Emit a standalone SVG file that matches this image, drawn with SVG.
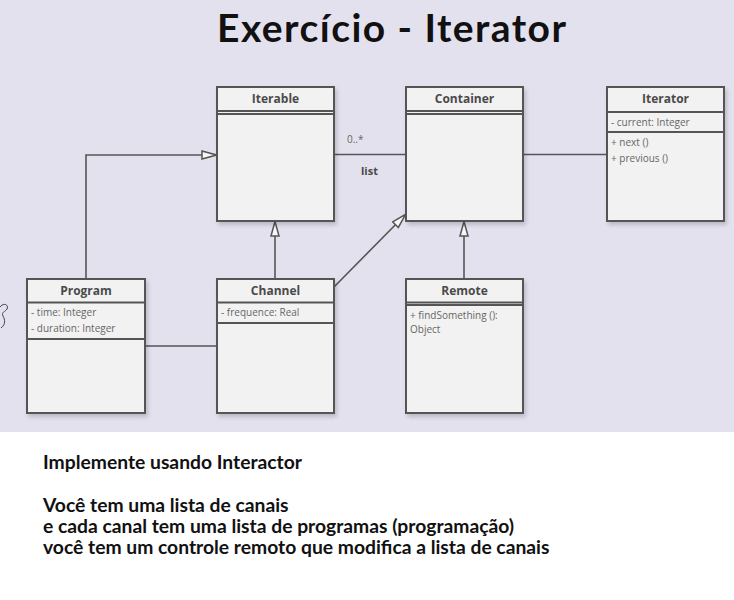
<svg xmlns="http://www.w3.org/2000/svg" width="734" height="600" viewBox="0 0 734 600">
<defs>
<marker id="tri" viewBox="0 0 16 10" refX="16" refY="5" markerWidth="16" markerHeight="10" markerUnits="userSpaceOnUse" orient="auto">
<path d="M1,1 L15.5,5 L1,9 Z" fill="#f7f7f7" stroke="#555" stroke-width="1.5" stroke-linejoin="miter"/>
</marker>
<filter id="sh" x="-10%" y="-10%" width="130%" height="130%">
<feGaussianBlur in="SourceAlpha" stdDeviation="2"/>
<feOffset dx="2" dy="3" result="b"/>
<feComponentTransfer><feFuncA type="linear" slope="0.18"/></feComponentTransfer>
<feMerge><feMergeNode/><feMergeNode in="SourceGraphic"/></feMerge>
</filter>
</defs>
<style>
.box{fill:#f2f2f2;stroke:#555;stroke-width:2;filter:url(#sh)}
.div{stroke:#555;stroke-width:2}
.name{font-family:"Open Sans","Noto Sans",sans-serif;font-weight:bold;font-size:12px;fill:#4a4a4a;text-anchor:middle}
.attr{font-family:"Open Sans","Noto Sans",sans-serif;font-size:10px;fill:#666}
.con{fill:none;stroke:#555;stroke-width:1.6}
.body{font-family:Lato,"Liberation Sans",sans-serif;font-weight:bold;font-size:19.3px;fill:#111}
</style>
<rect x="0" y="0" width="734" height="432" fill="#e4e1ef"/>
<rect x="0" y="432" width="734" height="168" fill="#ffffff"/>
<text x="391.5" y="42" font-family="Lato,'Liberation Sans',sans-serif" font-weight="bold" font-size="39" fill="#111" text-anchor="middle" textLength="349" lengthAdjust="spacing">Exercício - Iterator</text>
<path d="M0,307 C4,302 9,305 7,309 C5,312 1,312 3,316 C5,320 6,324 1,328" fill="none" stroke="#444" stroke-width="1"/>

<g id="connectors">
<path class="con" d="M86,279 L86,155 L217,155" marker-end="url(#tri)"/>
<path class="con" d="M275,279 L275,221" marker-end="url(#tri)"/>
<path class="con" d="M334,287 L406,214" marker-end="url(#tri)"/>
<path class="con" d="M464,279 L464,221" marker-end="url(#tri)"/>
<path class="con" d="M334,154.5 L406,154.5"/>
<path class="con" d="M523,154.5 L607,154.5"/>
<path class="con" d="M145,346 L217,346"/>
<text x="347" y="143" class="attr">0..*</text>
<text x="361" y="175" font-family="'Open Sans','Noto Sans',sans-serif" font-weight="bold" font-size="11" fill="#4a4a4a">list</text>
</g>

<g id="Iterable">
<rect class="box" x="217" y="87" width="117" height="134"/>
<line class="div" x1="217" y1="111" x2="334" y2="111"/>
<line class="div" x1="217" y1="114" x2="334" y2="114"/>
<text class="name" x="275.5" y="103">Iterable</text>
</g>

<g id="Container">
<rect class="box" x="406" y="87" width="117" height="134"/>
<line class="div" x1="406" y1="111" x2="523" y2="111"/>
<line class="div" x1="406" y1="114" x2="523" y2="114"/>
<text class="name" x="464.5" y="103">Container</text>
</g>

<g id="Iterator">
<rect class="box" x="607" y="87" width="117" height="134"/>
<line class="div" x1="607" y1="112" x2="724" y2="112"/>
<line class="div" x1="607" y1="132" x2="724" y2="132"/>
<text class="name" x="665.5" y="103">Iterator</text>
<text class="attr" x="611" y="125.5">- current: Integer</text>
<text class="attr" x="611" y="146">+ next ()</text>
<text class="attr" x="611" y="162">+ previous ()</text>
</g>

<g id="Program">
<rect class="box" x="27" y="279" width="118" height="134"/>
<line class="div" x1="27" y1="302.5" x2="145" y2="302.5"/>
<line class="div" x1="27" y1="339" x2="145" y2="339"/>
<text class="name" x="86" y="295">Program</text>
<text class="attr" x="31" y="316">- time: Integer</text>
<text class="attr" x="31" y="332">- duration: Integer</text>
</g>

<g id="Channel">
<rect class="box" x="217" y="279" width="117" height="134"/>
<line class="div" x1="217" y1="302.5" x2="334" y2="302.5"/>
<line class="div" x1="217" y1="323" x2="334" y2="323"/>
<text class="name" x="275.5" y="295">Channel</text>
<text class="attr" x="221" y="316">- frequence: Real</text>
</g>

<g id="Remote">
<rect class="box" x="406" y="279" width="117" height="134"/>
<line class="div" x1="406" y1="302.5" x2="523" y2="302.5"/>
<line class="div" x1="406" y1="305" x2="523" y2="305"/>
<text class="name" x="464.5" y="295">Remote</text>
<text class="attr" x="410" y="319">+ findSomething ():</text>
<text class="attr" x="410" y="333">Object</text>
</g>

<text class="body" x="43" y="469">Implemente usando Interactor</text>
<text class="body" x="43" y="512">Você tem uma lista de canais</text>
<text class="body" x="43" y="533">e cada canal tem uma lista de programas (programação)</text>
<text class="body" x="43" y="554">você tem um controle remoto que modifica a lista de canais</text>
</svg>
